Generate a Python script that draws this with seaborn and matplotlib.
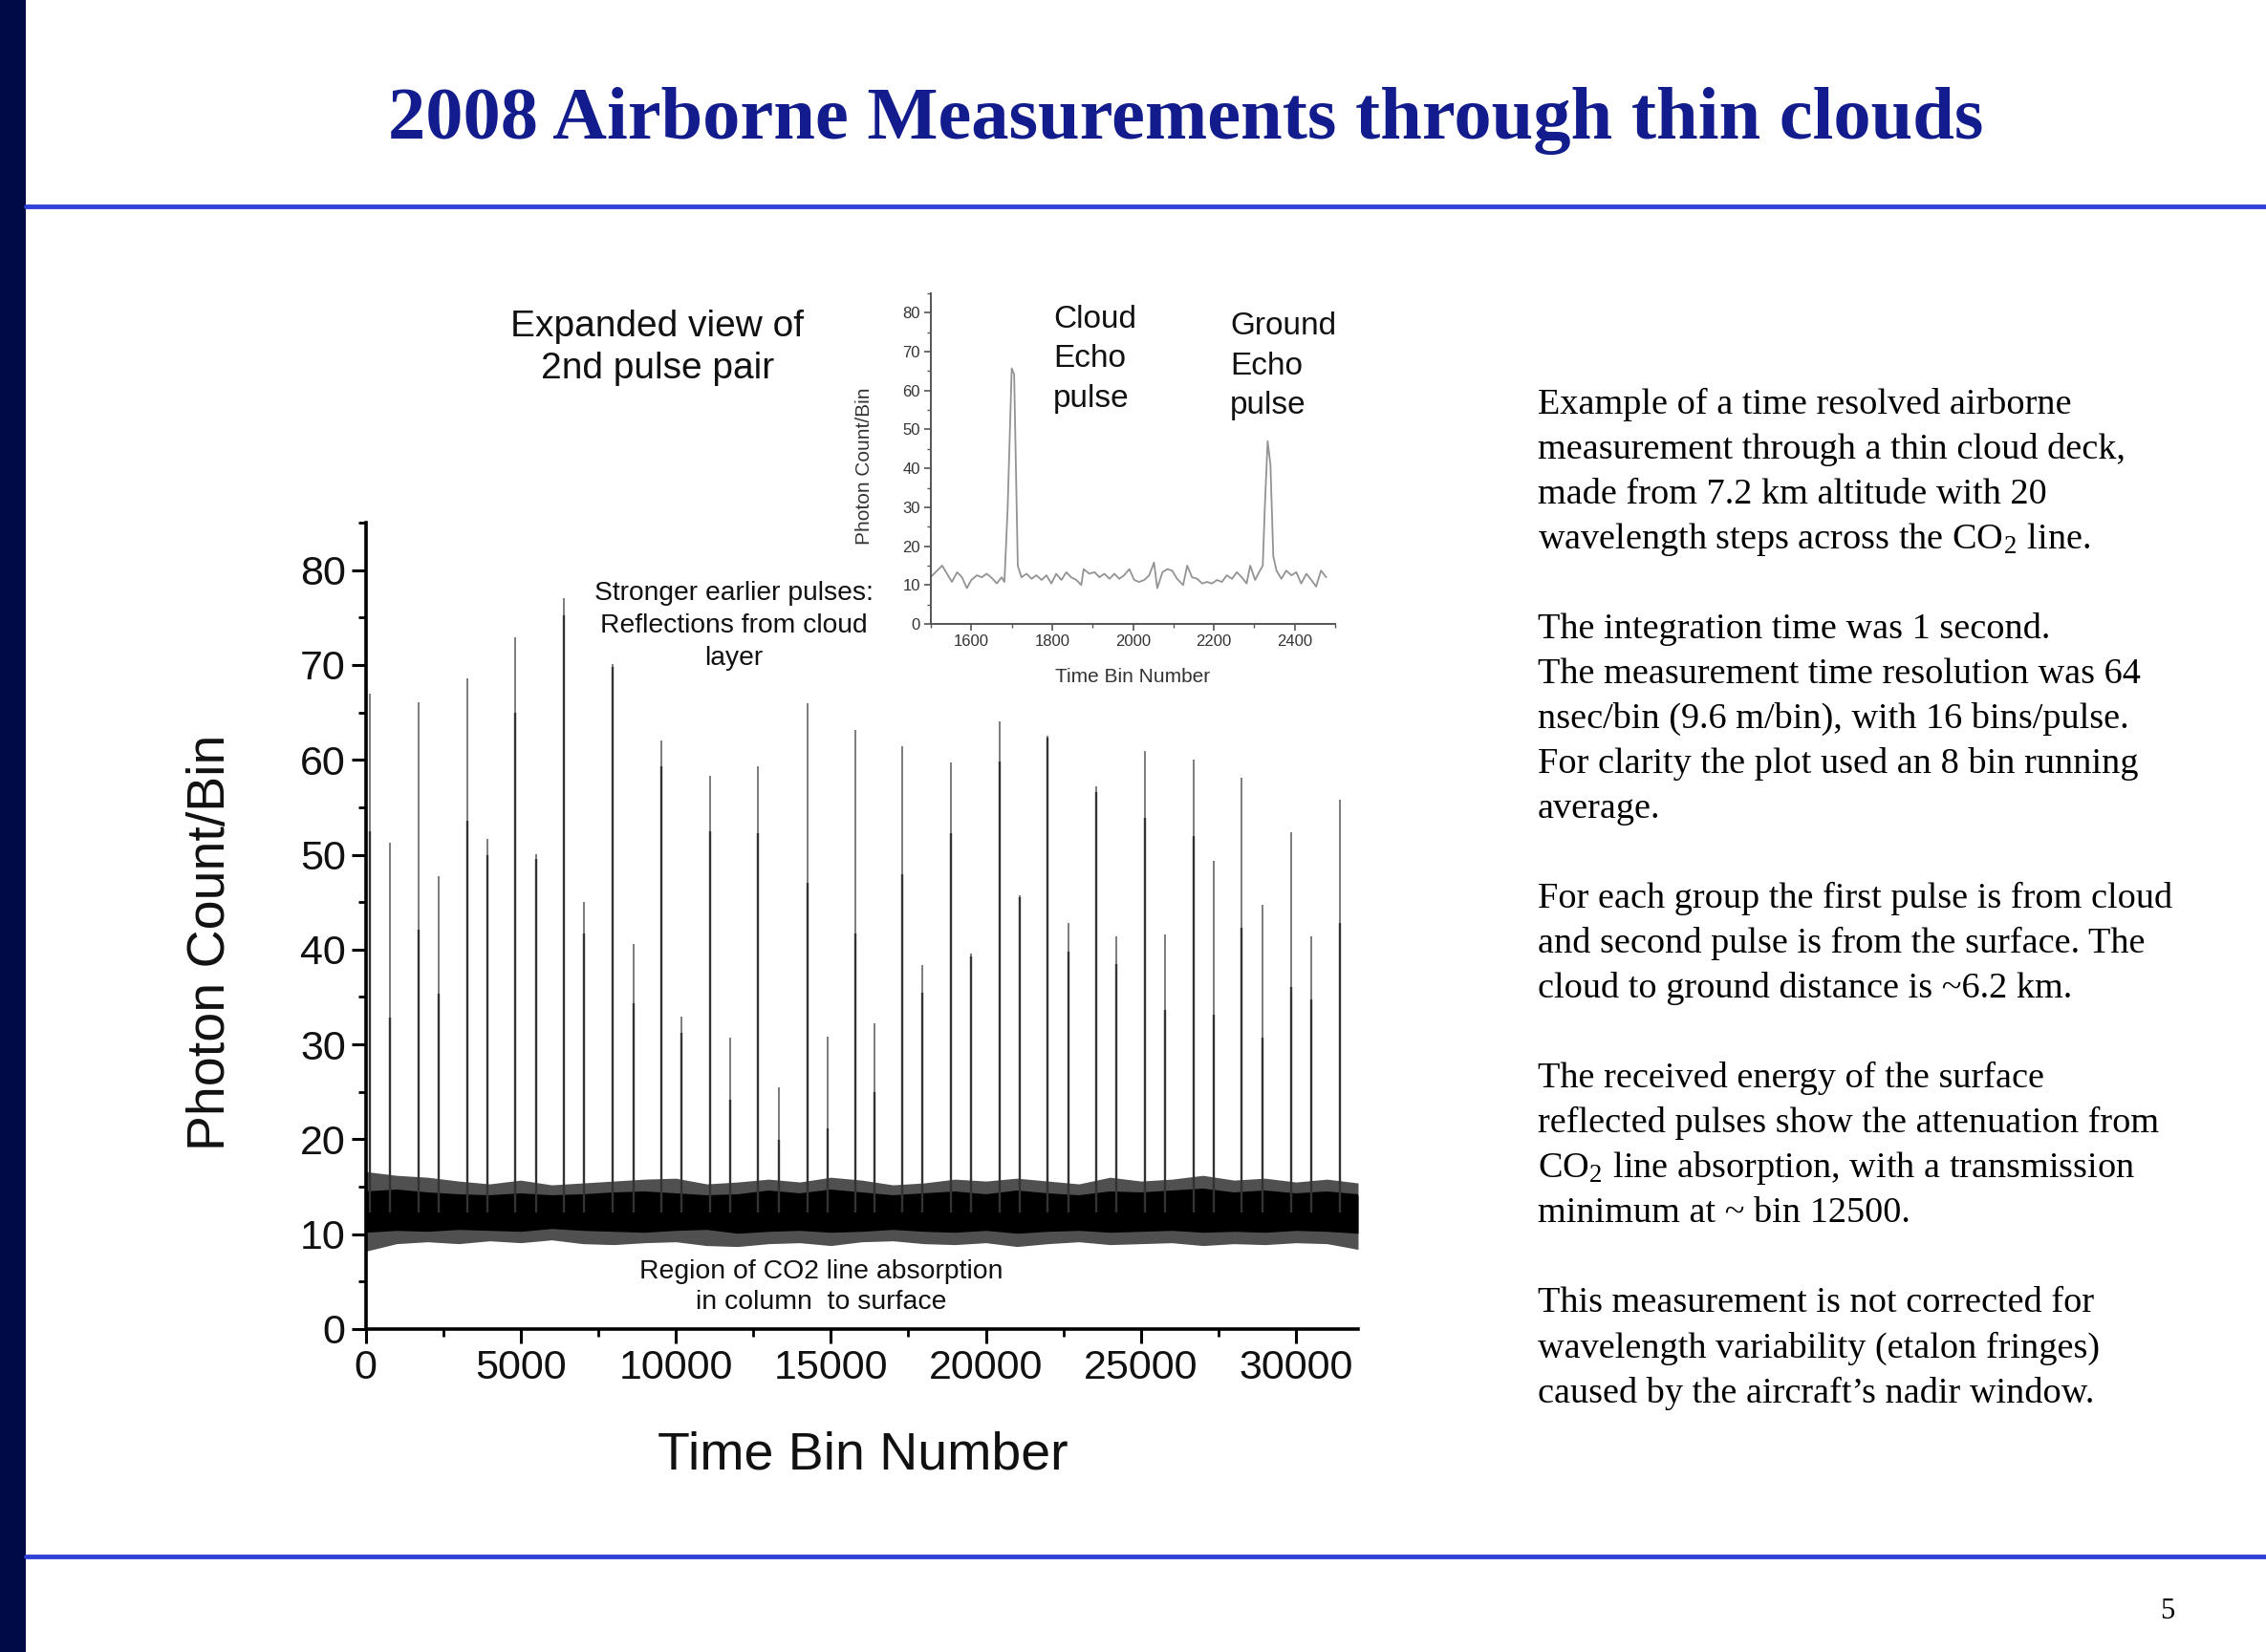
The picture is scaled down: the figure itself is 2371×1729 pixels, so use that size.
import numpy as np
import matplotlib
matplotlib.use('Agg')
from matplotlib import pyplot as plt
from matplotlib.patches import Rectangle
from matplotlib.lines import Line2D
from matplotlib.ticker import MultipleLocator
import seaborn as sns

# ---- main trace: pulse pairs (time bin, peak count, lower shoulder count)
cloud_bins = [128, 1702, 3277, 4830, 6405, 7980, 9533, 11097, 12662, 14236, 15800,
              17308, 18862, 20447, 22000, 23564, 25118, 26704, 28246, 29843, 31406]
cloud_peaks = [67.0, 66.1, 68.6, 72.9, 77.0, 70.1, 62.0, 58.3, 59.3, 66.0, 63.1,
               61.4, 59.7, 64.1, 62.5, 57.2, 60.9, 60.0, 58.1, 52.4, 55.8]
cloud_shoulders = [52.5, 42.1, 53.6, 65.0, 75.2, 69.8, 59.3, 52.5, 52.3, 47.0, 41.7,
                   47.9, 52.3, 59.8, 62.3, 56.6, 53.9, 52.0, 42.3, 36.1, 42.8]
ground_bins = [798, 2362, 3937, 5490, 7054, 8629, 10193, 11757, 13321, 14896,
               16404, 17957, 19521, 21085, 22660, 24213, 25778, 27342, 28917, 30480]
ground_peaks = [51.3, 47.7, 51.7, 50.1, 45.0, 40.6, 32.9, 30.7, 25.5, 30.8,
                32.2, 38.4, 39.6, 45.7, 42.8, 41.4, 41.6, 49.3, 44.7, 41.4]
ground_shoulders = [32.8, 35.3, 50.0, 49.6, 41.7, 34.3, 31.2, 24.2, 19.9, 21.1,
                    25.0, 35.5, 39.3, 45.5, 39.8, 38.5, 33.6, 33.1, 30.7, 34.7]
baseline_level = 12.3

# ---- background noise band read every 1000 bins
band_bins = [0, 1000, 2000, 3000, 4000, 5000, 6000, 7000, 8000, 9000, 10000,
             11000, 12000, 13000, 14000, 15000, 16000, 17000, 18000, 19000, 20000,
             21000, 22000, 23000, 24000, 25000, 26000, 27000, 28000, 29000, 30000,
             31000, 32000]
upper_edge = [16.6, 16.2, 16.0, 15.6, 15.3, 15.7, 15.2, 15.4, 15.6, 15.8, 15.9,
              15.3, 15.5, 15.8, 15.5, 16.0, 15.7, 15.2, 15.4, 15.8, 15.6,
              15.9, 15.6, 15.3, 16.0, 15.6, 15.8, 16.2, 15.7, 15.9, 15.5, 15.8, 15.4]
core_upper = [14.4, 14.6, 14.3, 14.1, 14.0, 14.2, 14.0, 14.1, 14.3, 14.4, 14.2,
              14.0, 14.1, 14.5, 14.2, 14.6, 14.3, 14.0, 14.2, 14.4, 14.1,
              14.5, 14.2, 14.0, 14.4, 14.3, 14.5, 14.7, 14.3, 14.5, 14.2, 14.4, 14.1]
core_lower = [10.2, 10.4, 10.3, 10.5, 10.4, 10.3, 10.6, 10.4, 10.3, 10.2, 10.4,
              10.5, 10.1, 10.3, 10.4, 10.2, 10.3, 10.5, 10.3, 10.2, 10.4,
              10.1, 10.3, 10.4, 10.2, 10.3, 10.4, 10.2, 10.3, 10.2, 10.4, 10.3, 10.1]
lower_edge = [8.2, 9.0, 9.2, 9.0, 9.3, 9.1, 9.4, 9.0, 8.9, 9.1, 9.2,
              8.8, 8.7, 9.0, 9.1, 8.8, 9.2, 9.3, 9.0, 8.9, 9.1,
              8.7, 9.0, 9.2, 8.9, 9.0, 9.1, 8.8, 9.0, 8.9, 9.1, 9.0, 8.4]

# ---- inset: expanded view of the 2nd pulse pair
inset_bins = [1500, 1528, 1540, 1552, 1565, 1577, 1589, 1600, 1614, 1626, 1638, 1651,
              1663, 1675, 1682, 1690, 1700, 1706, 1715, 1724, 1737, 1749, 1761, 1774,
              1786, 1798, 1810, 1823, 1835, 1847, 1860, 1872, 1878, 1892, 1905, 1917,
              1929, 1942, 1954, 1966, 1978, 1991, 2003, 2015, 2028, 2040, 2052, 2060,
              2073, 2085, 2097, 2109, 2124, 2134, 2146, 2159, 2171, 2183, 2195, 2208,
              2220, 2232, 2245, 2257, 2269, 2281, 2290, 2302, 2314, 2321, 2326, 2333,
              2340, 2347, 2355, 2367, 2379, 2392, 2404, 2416, 2429, 2441, 2453, 2465, 2478]
inset_counts = [12.1, 15.0, 12.9, 10.8, 13.3, 12.0, 9.2, 11.3, 12.5, 12.0, 12.9, 11.8,
                10.4, 12.0, 10.8, 30.0, 65.7, 64.2, 15.0, 12.0, 12.9, 11.6, 12.5, 11.3,
                12.5, 10.4, 12.9, 11.3, 13.3, 12.0, 11.3, 10.0, 14.1, 12.9, 13.3, 12.0,
                12.9, 11.6, 12.9, 11.6, 12.5, 14.1, 11.3, 10.8, 11.3, 12.5, 15.8, 9.2,
                13.3, 14.1, 13.7, 11.6, 10.0, 15.0, 12.0, 11.6, 10.4, 10.8, 10.4, 11.3,
                10.8, 12.5, 11.6, 13.3, 12.0, 10.4, 15.0, 11.3, 13.7, 15.0, 29.7, 47.0,
                41.0, 17.4, 13.7, 11.6, 13.7, 12.5, 13.3, 10.4, 12.9, 11.3, 9.6, 13.7, 12.0]

main_xticks = [0, 5000, 10000, 15000, 20000, 25000, 30000]
main_yticks = [0, 10, 20, 30, 40, 50, 60, 70, 80]
inset_xticks = [1600, 1800, 2000, 2200, 2400]
inset_yticks = [0, 10, 20, 30, 40, 50, 60, 70, 80]

notes = [
    ["Example of a time resolved airborne",
     "measurement through a thin cloud deck,",
     "made from 7.2 km altitude with 20",
     r"wavelength steps across the CO$_\mathregular{2}$ line."],
    ["The integration time was 1 second.",
     "The measurement time resolution was 64",
     "nsec/bin (9.6 m/bin), with 16 bins/pulse.",
     "For clarity the plot used an 8 bin running",
     "average."],
    ["For each group the first pulse is from cloud",
     "and second pulse is from the surface. The",
     "cloud to ground distance is ~6.2 km."],
    ["The received energy of the surface",
     "reflected pulses show the attenuation from",
     r"CO$_\mathregular{2}$ line absorption, with a transmission",
     "minimum at ~ bin 12500."],
    ["This measurement is not corrected for",
     "wavelength variability (etalon fringes)",
     "caused by the aircraft\u2019s nadir window."],
]

sns.set_theme(style='ticks')
plt.rcParams['font.family'] = ['Liberation Sans', 'DejaVu Sans']
plt.rcParams['mathtext.fontset'] = 'stix'

W, H = 2371, 1729
fig = plt.figure(figsize=(W / 100, H / 100), dpi=100)
fig.patch.set_facecolor('white')


def fx(px):
    return px / W


def fy(py):
    return 1 - py / H


# slide frame
fig.add_artist(Rectangle((0, 0), fx(27), 1, transform=fig.transFigure,
                         color='#000a45', lw=0))
for yline in (216, 1629):
    fig.add_artist(Line2D([fx(27), 1], [fy(yline), fy(yline)], color='#2f41d6', lw=3.5))
fig.text(fx(1241), fy(126), '2008 Airborne Measurements through thin clouds',
         family=['Liberation Serif'], weight='bold', fontsize=56.5, color='#121c8c',
         ha='center', va='center')
fig.text(fx(2268), fy(1687), '5', family=['Liberation Serif'], fontsize=22,
         ha='center', va='center', color='black')

# main chart
ax = fig.add_axes([fx(382.5), fy(1391), fx(1421 - 382.5), (1391 - 547) / H])
ax.set_facecolor('white')
ax.fill_between(band_bins, lower_edge, upper_edge, color='#505050', lw=0)
ax.fill_between(band_bins, core_lower, core_upper, color='black', lw=0)
sns.lineplot(x=band_bins, y=core_upper, ax=ax, color='black', lw=1.5)
ax.vlines(cloud_bins, baseline_level, cloud_peaks, color='#666666', lw=1.2)
ax.vlines(cloud_bins, baseline_level, cloud_shoulders, color='#333333', lw=1.7)
ax.vlines(ground_bins, baseline_level, ground_peaks, color='#666666', lw=1.2)
ax.vlines(ground_bins, baseline_level, ground_shoulders, color='#333333', lw=1.7)

ax.set_xlim(0, 32000)
ax.set_ylim(0, 85)
ax.set_xticks(main_xticks)
ax.set_yticks(main_yticks)
ax.xaxis.set_minor_locator(MultipleLocator(2500))
ax.yaxis.set_minor_locator(MultipleLocator(5))
ax.tick_params(which='major', length=11, width=2.2, labelsize=31, direction='out',
               color='black', labelcolor='#111111', pad=4)
ax.tick_params(which='minor', length=6, width=2.0, direction='out', color='black')
for side in ('top', 'right'):
    ax.spines[side].set_visible(False)
for side in ('left', 'bottom'):
    ax.spines[side].set_linewidth(2.6)
    ax.spines[side].set_color('black')
ax.set_xlabel('')
ax.set_ylabel('')
fig.text(fx(221), fy(986), 'Photon Count/Bin', rotation=90, fontsize=40,
         ha='center', va='center', color='#111111')
fig.text(fx(903), fy(1523), 'Time Bin Number', fontsize=40,
         ha='center', va='center', color='#111111')

# annotations
fig.text(fx(688), fy(364), 'Expanded view of\n2nd pulse pair', fontsize=28,
         ha='center', va='center', linespacing=1.32, color='#111111')
fig.text(fx(768), fy(655), 'Stronger earlier pulses:\nReflections from cloud\nlayer',
         fontsize=20.3, ha='center', va='center', linespacing=1.38, color='#111111')
fig.text(fx(859), fy(1347), 'Region of CO2 line absorption\nin column  to surface',
         fontsize=20.4, ha='center', va='center', linespacing=1.32, color='#111111')

# inset
axin = fig.add_axes([fx(974), fy(653), fx(1397 - 974), (653 - 307) / H])
axin.set_facecolor('none')
sns.lineplot(x=inset_bins, y=inset_counts, ax=axin, color='#939393', lw=1.3)
axin.set_xlim(1500, 2500)
axin.set_ylim(0, 85)
axin.set_xticks(inset_xticks)
axin.set_yticks(inset_yticks)
axin.xaxis.set_minor_locator(MultipleLocator(100))
axin.yaxis.set_minor_locator(MultipleLocator(5))
axin.tick_params(which='major', length=5, width=1.2, labelsize=12, direction='out',
                 color='#555555', labelcolor='#333333', pad=3)
axin.tick_params(which='minor', length=3, width=1.0, direction='out', color='#555555')
for side in ('top', 'right'):
    axin.spines[side].set_visible(False)
for side in ('left', 'bottom'):
    axin.spines[side].set_linewidth(1.4)
    axin.spines[side].set_color('#555555')
axin.set_xlabel('')
axin.set_ylabel('')
fig.text(fx(904), fy(488), 'Photon Count/Bin', rotation=90, fontsize=15,
         ha='center', va='center', color='#333333')
fig.text(fx(1185), fy(708), 'Time Bin Number', fontsize=15,
         ha='center', va='center', color='#333333')
fig.text(fx(1102), fy(376), 'Cloud\nEcho\npulse', fontsize=24, ha='left', va='center',
         linespacing=1.45, color='#111111')
fig.text(fx(1287), fy(383), 'Ground\nEcho\npulse', fontsize=24, ha='left', va='center',
         linespacing=1.45, color='#111111')

# explanatory text on the right
row = 0
for para in notes:
    for line in para:
        fig.text(fx(1609), fy((280 + row * 31.1) * 1.5121), line,
                 family=['Liberation Serif'], fontsize=27.5, ha='left', va='center',
                 color='black')
        row += 1
    row += 1

fig.savefig('out.png', dpi=100, facecolor='white')
